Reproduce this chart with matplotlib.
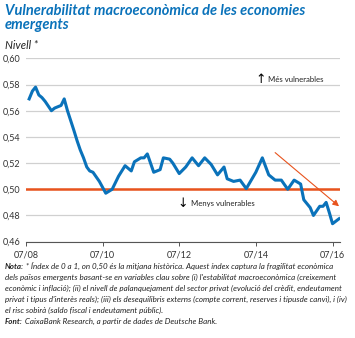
import matplotlib.pyplot as plt
import pandas as pd

plt.rcParams['font.family'] = ['Lato', 'DejaVu Sans']

# months counted from July 2008 and index level
months = [1, 2, 3, 4, 5, 6, 8, 9, 10, 11, 12, 13, 15, 16, 17, 18, 19, 20, 21, 23,
          25, 27, 29, 31, 33, 34, 36, 37, 38, 40, 42, 43, 45, 46, 48, 50, 52, 54, 56, 58,
          60, 62, 63, 65, 67, 69, 72, 74, 76, 78, 80, 82, 84, 86, 87, 89, 90, 92, 93, 94,
          95, 96, 98]
level = [0.569, 0.575, 0.578, 0.572, 0.570, 0.567, 0.560, 0.562, 0.563, 0.564, 0.569, 0.560,
         0.545, 0.537, 0.530, 0.524, 0.517, 0.514, 0.513, 0.506, 0.497, 0.500, 0.510, 0.518,
         0.514, 0.521, 0.524, 0.524, 0.527, 0.513, 0.515, 0.524, 0.523, 0.520, 0.512, 0.517,
         0.524, 0.518, 0.524, 0.519, 0.511, 0.517, 0.508, 0.506, 0.507, 0.5005, 0.513, 0.524,
         0.511, 0.507, 0.507, 0.500, 0.507, 0.504, 0.492, 0.486, 0.480, 0.487, 0.487, 0.490,
         0.482, 0.4737, 0.4775]

ticks = ['2008-07', '2010-07', '2012-07', '2014-07', '2016-07']
tick_labels = ['07/08', '07/10', '07/12', '07/14', '07/16']
yticks = [0.46, 0.48, 0.50, 0.52, 0.54, 0.56, 0.58, 0.60]

start = pd.Timestamp('2008-07-01')
dates = [start + pd.DateOffset(months=m) for m in months]

blue = '#0a72ba'
orange = '#e8531d'

fig = plt.figure(figsize=(3.55, 3.38), dpi=100)
ax = fig.add_axes([0.073, 0.285, 0.885, 0.5425])

ax.set_ylim(0.46, 0.60)
ax.set_xlim(start, start + pd.DateOffset(months=98) + pd.Timedelta(days=10))
ax.set_yticks(yticks)
ax.set_yticklabels([f'{v:.2f}'.replace('.', ',') for v in yticks])
ax.set_xticks(pd.to_datetime(ticks))
ax.set_xticklabels(tick_labels)
ax.grid(axis='y', color='#d0d0d0', lw=0.9)
ax.set_axisbelow(True)
for s in ['left', 'right', 'top']:
    ax.spines[s].set_visible(False)
ax.spines['bottom'].set_color('#555555')
ax.spines['bottom'].set_linewidth(0.8)
ax.tick_params(axis='y', length=0, labelsize=6.5, colors='#333333', pad=4)
ax.tick_params(axis='x', length=3, width=0.7, color='#555555', labelsize=6.5,
               labelcolor='#333333', pad=3.5)

ax.axhline(0.50, color=orange, lw=1.8, zorder=2)
ax.plot(dates, level, color=blue, lw=2.2, zorder=3, solid_joinstyle='round')

# trend arrow
ax.annotate('', xy=(start + pd.DateOffset(months=98), 0.487),
            xytext=(start + pd.DateOffset(months=78), 0.528),
            arrowprops=dict(arrowstyle='-|>', color=orange, lw=0.8,
                            mutation_scale=9, shrinkA=0, shrinkB=0))

lab = dict(fontsize=5.6, va='center', color='#222222')
ax.text(0.747, 0.887, '↑', transform=ax.transAxes, fontsize=9, va='center',
        ha='center', color='black', family='DejaVu Sans')
ax.text(0.77, 0.887, 'Més vulnerables', transform=ax.transAxes, **lab)
ax.text(0.50, 0.208, '↓', transform=ax.transAxes, fontsize=9, va='center',
        ha='center', color='black', family='DejaVu Sans')
ax.text(0.527, 0.208, 'Menys vulnerables', transform=ax.transAxes, **lab)

fig.text(0.014, 0.948, 'Vulnerabilitat macroeconòmica de les economies\nemergents',
         fontsize=10.5, fontweight='bold', style='italic', color=blue,
         va='center', linespacing=1.0)
fig.text(0.014, 0.866, 'Nivell *', fontsize=8, style='italic', color='#222222',
         va='center')

notes = ["Índex de 0 a 1, on 0,50 és la mitjana històrica. Aquest índex captura la fragilitat econòmica",
         "dels països emergents basant-se en variables clau sobre (i) l'estabilitat macroeconòmica (creixement",
         "econòmic i inflació); (ii) el nivell de palanquejament del sector privat (evolució del crèdit, endeutament",
         "privat i tipus d'interès reals); (iii) els desequilibris externs (compte corrent, reserves i tipusde canvi), i (iv)",
         "el risc sobirà (saldo fiscal i endeutament públic)."]
nfont = dict(fontsize=5.75, style='italic', color='#222222')

y0 = 1 - 270 / 338
dy = 11 / 338
t = fig.text(0.014, y0, 'Nota:', fontweight='bold', va='bottom', **nfont)
ax.annotate(' * ' + notes[0], xy=(1, 0), xycoords=t, va='bottom', **nfont)
for i, line in enumerate(notes[1:], start=1):
    fig.text(0.014, y0 - i * dy, line, va='bottom', **nfont)
t2 = fig.text(0.014, y0 - 5 * dy, 'Font:', fontweight='bold', va='bottom', **nfont)
ax.annotate(' CaixaBank Research, a partir de dades de Deutsche Bank.', xy=(1, 0),
            xycoords=t2, va='bottom', **nfont)

fig.savefig('out.png', dpi=100)
